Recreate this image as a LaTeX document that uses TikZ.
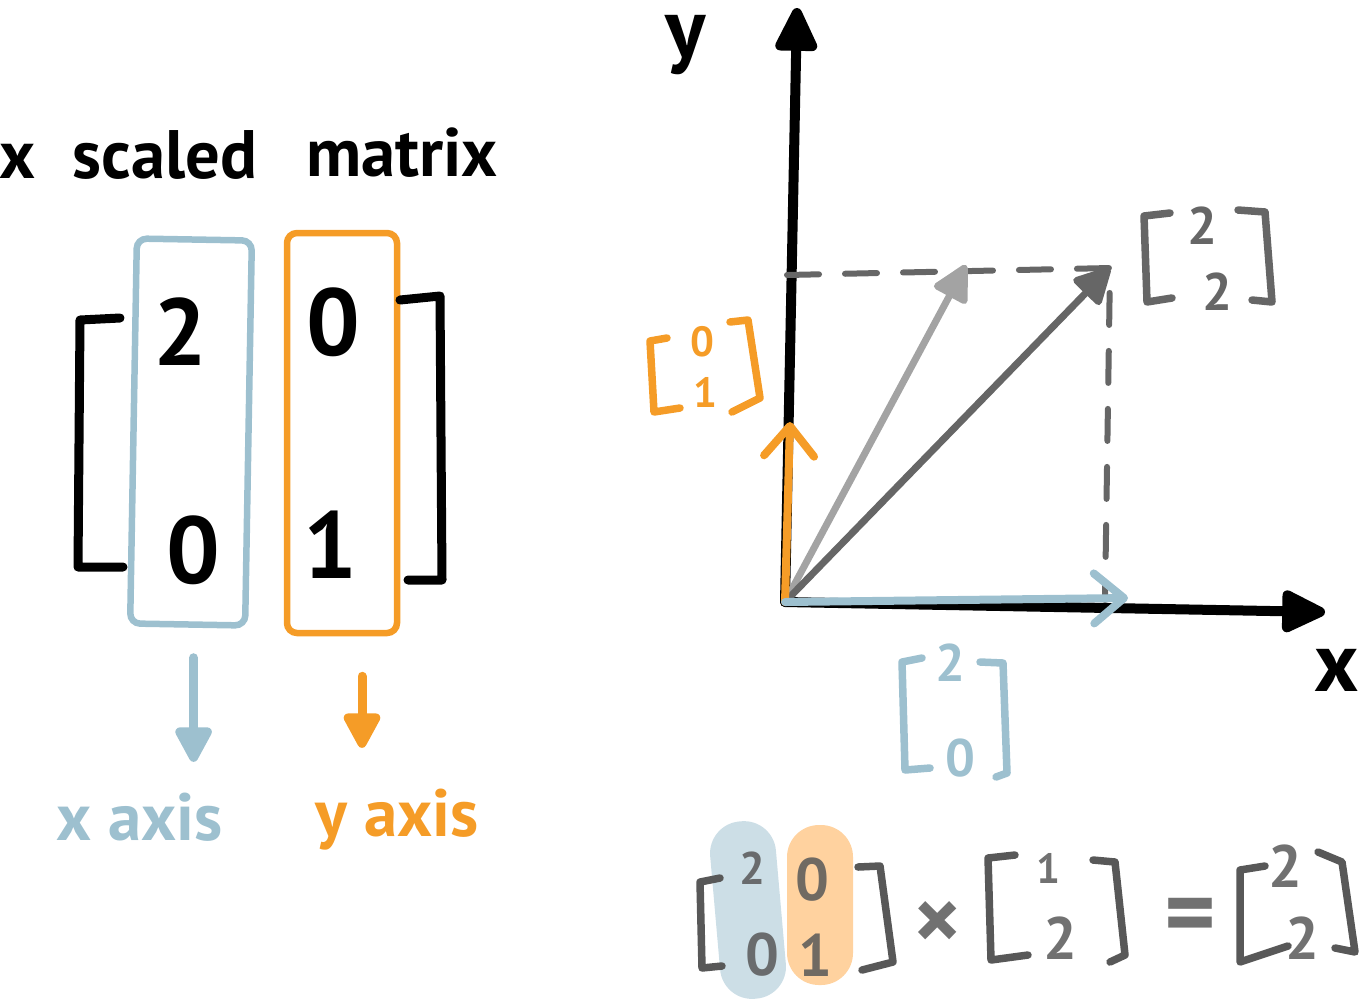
\documentclass[tikz,border=0pt]{standalone}
\usepackage{fontspec}
\setmainfont{PT Sans}
\usepackage{tikz}
\usetikzlibrary{positioning,arrows.meta,calc}
\definecolor{axblue}{HTML}{9DC0CF}
\definecolor{axorange}{HTML}{F59C27}
\definecolor{vecdark}{HTML}{666666}
\definecolor{veclight}{HTML}{A3A3A3}
\definecolor{pillblue}{HTML}{CCDEE6}
\definecolor{pillorange}{HTML}{FFD29F}
\definecolor{inkgray}{HTML}{585858}

\begin{document}
\begin{tikzpicture}[x=0.1mm,y=-0.1mm,
  hand/.style={line width=0.9mm,line cap=round,line join=round},
  brak/.style={line width=0.75mm,line cap=round,line join=round},
  colbox/.style={draw,line width=0.65mm,rounded corners=1mm,inner sep=0pt},
  pill/.style={rounded corners=3.2mm,inner sep=0pt,minimum width=6.6mm},
  digit/.style={font=\fontsize{27}{27}\selectfont\bfseries,inner sep=0pt},
  small/.style={font=\fontsize{12}{12}\selectfont\bfseries,inner sep=0pt},
  mid/.style={font=\fontsize{15}{15}\selectfont\bfseries,inner sep=0pt},
  eqdig/.style={font=\fontsize{17}{17}\selectfont\bfseries,inner sep=0pt,text=inkgray,text opacity=0.85},
  word/.style={font=\fontsize{19.5}{20}\selectfont\bfseries,inner sep=0pt},
  axname/.style={font=\fontsize{24}{24}\selectfont\bfseries,inner sep=0pt},
  axlab/.style={font=\fontsize{19}{19}\selectfont\bfseries,inner sep=0pt},
  fillhead/.style={-{Triangle[round,length=4mm,width=4mm]}},
  barb/.style={-{Straight Barb[round,length=3mm,width=5mm]}}
]
\useasboundingbox (0,0) rectangle (1362,1000);

% title
\node[word,anchor=base] (ttlx) at (17,178) {x};
\node[word,anchor=base] (ttls) at (165,178) {scaled};
\node[word,anchor=base] (ttlm) at (402,176) {matrix};

% scaling matrix with its two columns
\node[colbox,draw=axblue,minimum width=11.5mm,minimum height=38.5mm,rotate=-1] (xcol) at (191,432) {};
\node[colbox,draw=axorange,minimum width=11mm,minimum height=40mm] (ycol) at (342,433) {};
\node[digit] (a11) at (180,332) {2};
\node[digit] (a21) at (193,550) {0};
\node[digit] (a12) at (333,322) {0};
\node[digit] (a22) at (330,545) {1};
\draw[hand] (120,318) -- (80,320) -- (78,567) -- (123,567);
\draw[hand] (400,300) -- (440,296) -- (442,580) -- (408,580);

\node[axlab,text=axblue,anchor=base] (xlab) at (140,840) {x axis};
\node[axlab,text=axorange,anchor=base] (ylab) at (397,836) {y axis};
\draw[hand,axblue,fillhead,shorten <=3mm,shorten >=3mm] ([xshift=0.6mm]xcol.south) -- ([xshift=0.6mm]xcol.south |- xlab.north);
\draw[hand,axorange,fillhead,shorten <=4mm,shorten >=4mm] ([xshift=2mm]ycol.south) -- ([xshift=2mm]ycol.south |- ylab.north);

% axes
\coordinate (O) at (785,602);
\coordinate (ytip) at (797,8);
\coordinate (xtip) at (1325,612);
\draw[hand,line width=1mm,-{Triangle[round,length=5mm,width=4.5mm]}] (O) -- (ytip);
\draw[hand,line width=1mm,-{Triangle[round,length=5mm,width=4.5mm]}] (O) -- (xtip);
\node[axname] (yname) at (686,45) {y};
\node[axname] (xname) at (1337,670) {x};

% vectors
\coordinate (P) at (1110,268);
\coordinate (Py) at (787,275);
\coordinate (Px) at (1105,600);
\coordinate (Q) at (966,265);
\coordinate (U) at (790,422);
\coordinate (V) at (1128,598);
\draw[vecdark,line width=0.6mm,line cap=round,dash pattern=on 3.2mm off 2.6mm] (Py) -- (P) -- (Px);
\draw[hand,line width=0.7mm,veclight,fillhead] (O) -- (Q);
\draw[hand,line width=0.7mm,vecdark,fillhead] (O) -- (P);
\draw[hand,line width=0.8mm,axorange,barb] (O) -- (U);
\draw[hand,line width=0.8mm,axblue,barb] (O) -- (V);

% column vectors next to the plot
\draw[brak,axorange] (667,338) -- (650,341) -- (654,412) -- (680,408);
\draw[brak,axorange] (730,322) -- (748,320) -- (760,398) -- (732,412);
\node[small,text=axorange] (u1) at (702,342) {0};
\node[small,text=axorange] (u2) at (705,392) {1};

\draw[brak,vecdark] (1170,213) -- (1144,216) -- (1147,302) -- (1172,298);
\draw[brak,vecdark] (1238,210) -- (1265,212) -- (1272,302) -- (1252,300);
\node[mid,text=vecdark] (p1) at (1202,226) {2};
\node[mid,text=vecdark] (p2) at (1217,292) {2};

\draw[brak,axblue] (922,658) -- (902,662) -- (905,770) -- (930,768);
\draw[brak,axblue] (980,662) -- (1003,663) -- (1007,773) -- (996,777);
\node[mid,text=axblue] (v1) at (950,663) {2};
\node[mid,text=axblue] (v2) at (960,758) {0};

% product
\node[pill,fill=pillblue,minimum height=17.8mm,rotate=5] (pb) at (748,910) {};
\node[pill,fill=pillorange,minimum height=16mm] (po) at (820,905) {};
\draw[brak,inkgray] (720,878) -- (700,882) -- (702,968) -- (722,966);
\node[eqdig,font=\fontsize{13}{13}\selectfont\bfseries] (m11) at (752,868) {2};
\node[eqdig] (m12) at (812,880) {0};
\node[eqdig] (m21) at (762,955) {0};
\node[eqdig] (m22) at (815,955) {1};
\draw[brak,inkgray] (858,867) -- (880,866) -- (893,962) -- (862,970);
\node[eqdig,font=\fontsize{26}{26}\selectfont\bfseries] (times) at (938,926) {×};
\draw[brak,inkgray] (1015,855) -- (988,858) -- (991,960) -- (1028,955);
\node[eqdig,font=\fontsize{12}{12}\selectfont\bfseries] (w1) at (1048,868) {1};
\node[eqdig] (w2) at (1060,938) {2};
\draw[brak,inkgray] (1093,860) -- (1115,862) -- (1125,955) -- (1110,962);
\node[eqdig,font=\fontsize{28}{28}\selectfont\bfseries] (eq) at (1190,922) {=};
\draw[brak,inkgray] (1265,866) -- (1240,870) -- (1240,962) -- (1288,946);
\node[eqdig] (r1) at (1285,866) {2};
\node[eqdig] (r2) at (1302,938) {2};
\draw[brak,inkgray] (1318,852) -- (1342,862) -- (1355,952) -- (1335,948);
\end{tikzpicture}
\end{document}
